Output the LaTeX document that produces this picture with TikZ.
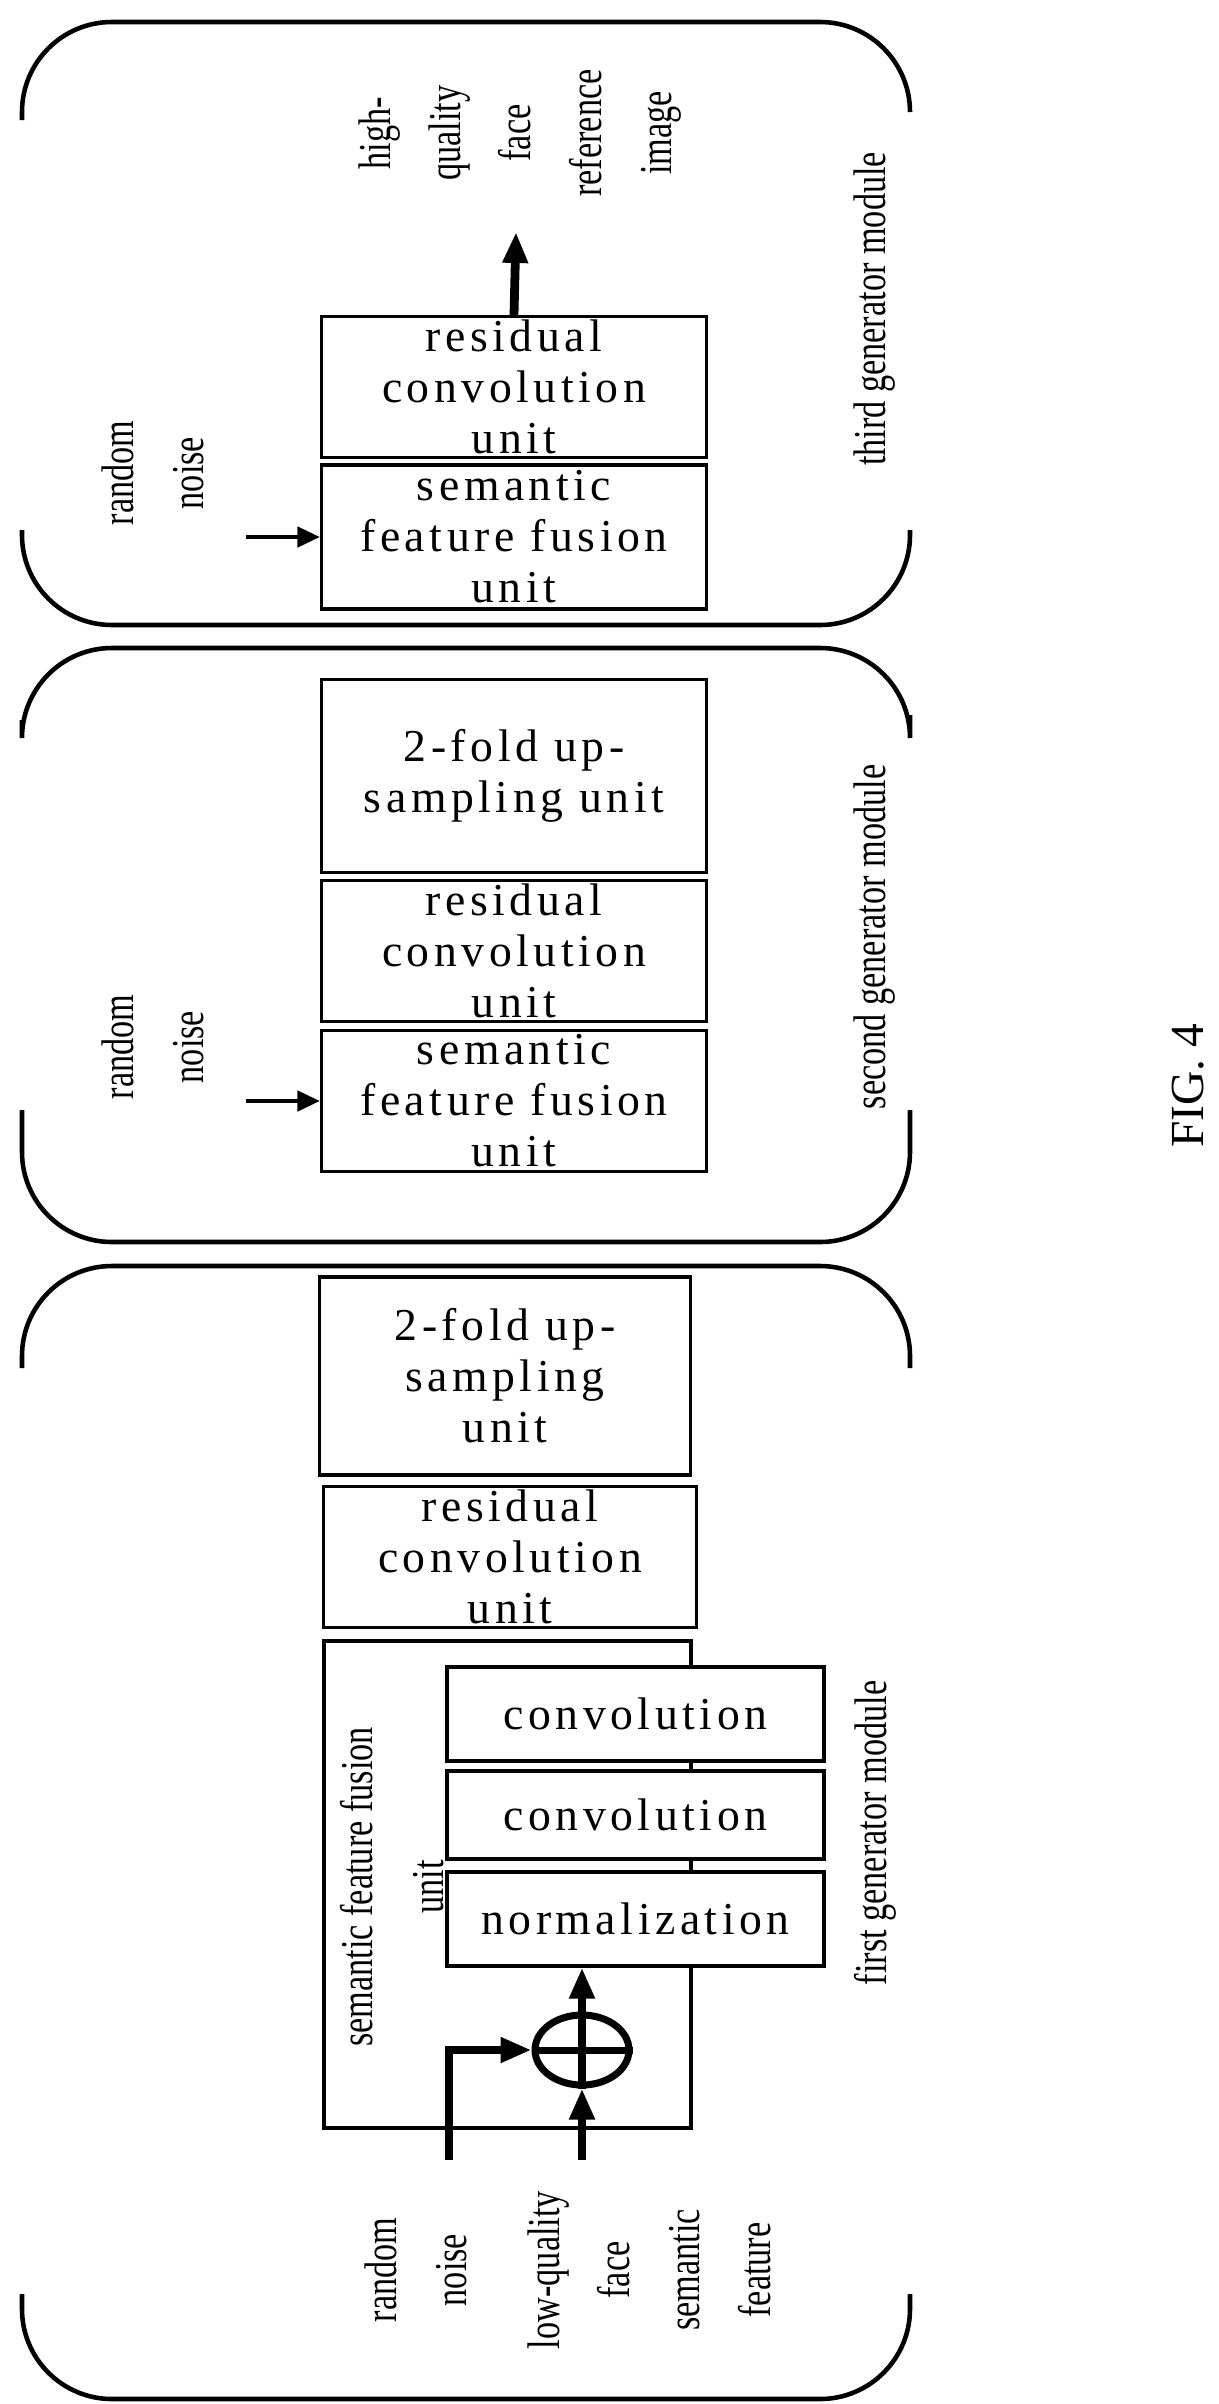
\documentclass[tikz,border=0pt]{standalone}
\usepackage{fontspec}
\usetikzlibrary{arrows.meta,shapes.geometric}
\setmainfont{Liberation Serif}
\newfontfamily\boxfont{Liberation Serif}[LetterSpace=10]
\newfontfamily\lblfont{Liberation Serif}[FakeStretch=0.75]

\begin{document}
\begin{tikzpicture}[
    x=0.02cm, y=-0.02cm,
    box/.style={draw, line width=1.8pt, fill=white, minimum width=7.7cm, inner sep=0pt, align=center, font=\boxfont\fontsize{26}{29}\selectfont},
    lbl/.style={rotate=90, align=center, inner sep=0pt, font=\lblfont\fontsize{26}{40}\selectfont},
    bracket/.style={line width=2.6pt, rounded corners=1.8cm},
    noise/.style={-{Triangle[length=0.45cm, width=0.4cm]}, line width=2.6pt},
    flow/.style={-{Triangle[length=0.62cm, width=0.48cm]}, line width=5pt}
]
    \useasboundingbox (0,0) rectangle (1218,2404);

    % module outlines
    \draw[bracket] (22,120) |- (910,22) -- (910,110);
    \draw[bracket] (22,530) |- (910,625) -- (910,530);
    \draw[bracket] (22,720) |- (910,648) -- (910,715);
    \draw[bracket] (22,1110) |- (910,1242) -- (910,1110);
    \draw[bracket] (22,1368) |- (910,1266) -- (910,1368);
    \draw[bracket] (22,2294) |- (910,2399) -- (910,2294);

    % third generator module
    \node[box, minimum height=2.88cm] (fuse3) at (514,537) {semantic\\feature fusion\\unit};
    \node[box, minimum height=2.82cm] (res3) at (514,387) {residual\\convolution\\unit};
    \node[lbl] (noise3) at (153,473) {random\\noise};
    \node[lbl] (out3) at (520,133) {high-\\quality\\face\\reference\\image};
    \node[lbl] (mod3) at (875,309) {third generator module};
    \coordinate (noise3in) at (246,537);
    \coordinate (out3tip) at (516,232);

    % second generator module
    \node[box, minimum height=3.86cm] (up2) at (514,776) {2-fold up-\\sampling unit};
    \node[box, minimum height=2.82cm] (res2) at (514,951) {residual\\convolution\\unit};
    \node[box, minimum height=2.82cm] (fuse2) at (514,1101) {semantic\\feature fusion\\unit};
    \node[lbl] (noise2) at (153,1047) {random\\noise};
    \node[lbl] (mod2) at (875,937) {second generator module};
    \coordinate (noise2in) at (246,1101);

    % first generator module
    \node[box, minimum height=3.96cm, minimum width=7.42cm] (up1) at (505,1376) {2-fold up-\\sampling\\unit};
    \node[box, minimum height=2.82cm, minimum width=7.46cm] (res1) at (510,1557) {residual\\convolution\\unit};
    \node[box, minimum height=9.74cm, minimum width=7.34cm] (fuse1) at (507.5,1884.5) {};
    \node[lbl] (fuselbl) at (392,1887) {semantic feature fusion\\unit};
    \node[box, minimum height=1.88cm, minimum width=7.54cm] (conv1) at (635.5,1714) {convolution};
    \node[box, minimum height=1.76cm, minimum width=7.54cm] (conv2) at (635.5,1815) {convolution};
    \node[box, minimum height=1.88cm, minimum width=7.54cm] (norm) at (635.5,1919) {normalization};
    \node[ellipse, draw, line width=4pt, minimum width=1.88cm, minimum height=1.4cm, inner sep=0pt] (sum) at (582,2050) {};
    \node[lbl] (noise1) at (416,2270) {random\\noise};
    \node[lbl] (face1) at (649,2270) {low-quality\\face\\semantic\\feature};
    \node[lbl] (mod1) at (875,1833) {first generator module};
    \coordinate (noise1in) at (449,2160);
    \coordinate (face1in) at (582,2160);

    \node[rotate=90, font=\fontsize{27}{30}\selectfont] (fig) at (1188,1086) {FIG. 4};

    % arrows
    \draw[noise] (noise3in) -- (fuse3.west);
    \draw[noise] (noise2in) -- (fuse2.west);
    \draw[flow] (res3.north) -- (out3tip);
    \draw[flow] (noise1in) |- (sum.west);
    \draw[flow] (face1in) -- (sum.south);
    \draw[line width=4pt] (sum.west) -- (sum.east);
    \draw[line width=4pt] (sum.south) -- (sum.north);
    \draw[flow] (sum.north) -- (norm.south -| sum);
\end{tikzpicture}
\end{document}
